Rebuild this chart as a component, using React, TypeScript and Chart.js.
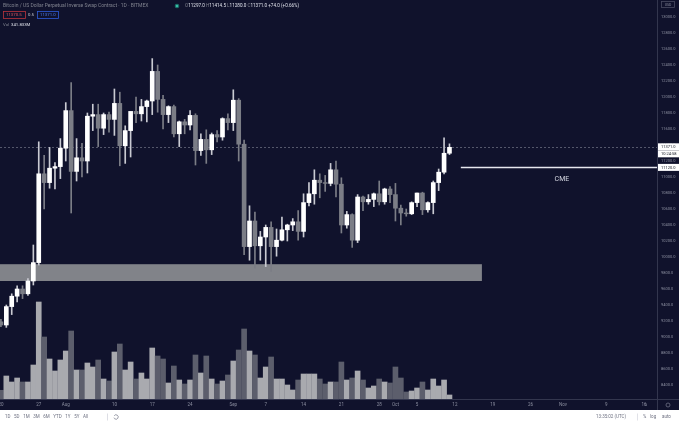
import { useEffect, useRef } from "react";
import { Chart, registerables } from "chart.js";

Chart.register(...registerables);

// ---------- DATA (daily candles, day 0 = 20 Jul 2020) ----------
const days = [
  "Jul 20","Jul 21","Jul 22","Jul 23","Jul 24","Jul 25","Jul 26","Jul 27","Jul 28","Jul 29","Jul 30","Jul 31",
  "Aug 1","Aug 2","Aug 3","Aug 4","Aug 5","Aug 6","Aug 7","Aug 8","Aug 9","Aug 10","Aug 11","Aug 12","Aug 13",
  "Aug 14","Aug 15","Aug 16","Aug 17","Aug 18","Aug 19","Aug 20","Aug 21","Aug 22","Aug 23","Aug 24","Aug 25",
  "Aug 26","Aug 27","Aug 28","Aug 29","Aug 30","Aug 31","Sep 1","Sep 2","Sep 3","Sep 4","Sep 5","Sep 6","Sep 7",
  "Sep 8","Sep 9","Sep 10","Sep 11","Sep 12","Sep 13","Sep 14","Sep 15","Sep 16","Sep 17","Sep 18","Sep 19",
  "Sep 20","Sep 21","Sep 22","Sep 23","Sep 24","Sep 25","Sep 26","Sep 27","Sep 28","Sep 29","Sep 30","Oct 1",
  "Oct 2","Oct 3","Oct 4","Oct 5","Oct 6","Oct 7","Oct 8","Oct 9","Oct 10","Oct 11",
];
const opens = [
  9190, 9150, 9380, 9510, 9600, 9540, 9700, 9930, 11040, 10930, 11110, 11130,
  11360, 11830, 11070, 11240, 11200, 11760, 11780, 11610, 11780, 11720, 11920, 11390, 11580,
  11820, 11790, 11880, 11950, 12320, 11970, 11780, 11880, 11540, 11690, 11650, 11770,
  11330, 11470, 11340, 11530, 11500, 11730, 11680, 11960, 11410, 10130, 10450, 10140, 10250,
  10370, 10130, 10210, 10340, 10400, 10440, 10320, 10680, 10790, 10960, 10930, 10920,
  11090, 10910, 10400, 10530, 10210, 10750, 10690, 10720, 10790, 10690, 10850, 10780,
  10610, 10550, 10540, 10680, 10800, 10590, 10680, 10930, 11060, 11297,
];
const highs = [
  9220, 9400, 9540, 9640, 9640, 9730, 10150, 11440, 11270, 11370, 11180, 11480,
  11930, 12180, 11480, 11420, 11800, 11910, 11910, 11800, 11810, 12100, 12060, 11640, 11800,
  12000, 11970, 11960, 12480, 12400, 12020, 11890, 11900, 11700, 11720, 11830, 11790,
  11540, 11590, 11550, 11580, 11740, 11790, 12090, 11980, 11460, 10640, 10560, 10320, 10400,
  10440, 10350, 10500, 10410, 10480, 10580, 10790, 10930, 11090, 11040, 11020, 11170,
  11200, 10990, 10570, 10540, 10780, 10760, 10780, 10800, 10950, 10860, 10880, 10920,
  10650, 10600, 10690, 10800, 10810, 10690, 10950, 11100, 11490, 11414.5,
];
const lows = [
  9130, 9120, 9280, 9440, 9480, 9520, 9650, 9900, 10600, 10860, 10850, 10980,
  11200, 10550, 10950, 11000, 11050, 11580, 11380, 11530, 11560, 11520, 11140, 11170, 11250,
  11680, 11700, 11690, 11780, 11810, 11600, 11680, 11500, 11380, 11540, 11590, 11150,
  11270, 11170, 11280, 11440, 11460, 11590, 11580, 11200, 10030, 9960, 9860, 9960, 9880,
  9820, 10010, 10200, 10200, 10330, 10210, 10250, 10640, 10660, 10740, 10820, 10890,
  10750, 10300, 10360, 10120, 10180, 10580, 10660, 10630, 10650, 10660, 10680, 10450,
  10400, 10510, 10530, 10630, 10530, 10560, 10540, 10830, 11040, 11280,
];
const closes = [
  9150, 9380, 9510, 9600, 9540, 9700, 9930, 11040, 10930, 11110, 11130, 11360,
  11830, 11070, 11240, 11200, 11760, 11780, 11610, 11780, 11720, 11920, 11390, 11580, 11820,
  11790, 11880, 11950, 12320, 11970, 11780, 11880, 11540, 11690, 11650, 11770, 11330,
  11470, 11340, 11530, 11500, 11730, 11680, 11960, 11410, 10130, 10450, 10140, 10250, 10370,
  10130, 10210, 10340, 10400, 10440, 10320, 10680, 10790, 10960, 10930, 10920, 11090,
  10910, 10400, 10530, 10210, 10750, 10690, 10720, 10790, 10690, 10850, 10780, 10610,
  10550, 10540, 10680, 10800, 10590, 10680, 10930, 11060, 11297, 11371,
];
// volume in millions of contracts
const volumes = [
  740, 1955, 1445, 1785, 1445, 1445, 2890, 8245, 5270, 3400, 2380, 3315,
  4080, 5780, 2465, 2465, 3060, 2720, 3315, 1700, 1530, 3995, 4675, 2465, 3145,
  1700, 2210, 1700, 4335, 3655, 3400, 1360, 2805, 1615, 1275, 1615, 3740,
  2210, 3655, 1700, 1275, 1530, 2040, 3230, 4165, 5950, 4080, 3740, 1785, 2720,
  3570, 1700, 1700, 1190, 765, 1615, 2125, 2125, 2125, 1700, 1275, 1445,
  1445, 3145, 1615, 1785, 2380, 1615, 935, 1105, 1700, 1445, 1360, 2720,
  1785, 595, 680, 935, 1445, 765, 1700, 1105, 1615, 342,
];

const priceTicks = [
  8400, 8600, 8800, 9000, 9200, 9400, 9600, 9800, 10000, 10200, 10400, 10600,
  10800, 11000, 11200, 11400, 11600, 11800, 12000, 12200, 12400, 12600, 12800, 13000,
];
const timeTickDays = [0, 7, 12, 21, 28, 35, 43, 49, 56, 63, 70, 73, 77, 84, 91, 98, 104, 112, 119];
const timeTickLabels = ["20", "27", "Aug", "10", "17", "24", "Sep", "7", "14", "21", "28", "Oct", "5", "12", "19", "26", "Nov", "9", "16"];

const cmeGapLow = 9700;
const cmeGapHigh = 9910;
const cmeGapEndDay = 89;
const cmeClose = 11120;
const cmeLineStartDay = 85.1;
const lastPrice = 11371.0;

const dayMin = -0.17;
const dayMax = 121.4;
const priceMin = 8225;
const priceMax = 13212.5;
const volMax = 33915;

// ---------- STYLE ----------
const BG = "#10122c";
const UP = "#ffffff";
const DOWN = "#7b7d86";
const VOL_UP = "#a9aaaf";
const VOL_DOWN = "#5c5e6c";
const BAND = "#818389";
const AXIS_TXT = "#8c8fa0";
const LINE = "#33364e";
const FONT = "Roboto, 'Noto Sans', sans-serif";

const isUp = (i: number) => closes[i] >= opens[i];

const zeroPad = (s: any) => {
  s.paddingLeft = 0;
  s.paddingRight = 0;
  s.paddingTop = 0;
  s.paddingBottom = 0;
};

const overlay = {
  id: "overlay",
  beforeDraw(chart: any) {
    const { ctx, width, height } = chart;
    ctx.save();
    ctx.fillStyle = BG;
    ctx.fillRect(0, 0, width, height);
    ctx.fillStyle = "#ffffff";
    ctx.fillRect(0, height - 14, width, 14);
    ctx.restore();
  },
  beforeDatasetsDraw(chart: any) {
    const { ctx, chartArea } = chart;
    const xs = chart.scales.x;
    const ys = chart.scales.y;
    ctx.save();
    const x1 = xs.getPixelForValue(cmeGapEndDay);
    const yt = ys.getPixelForValue(cmeGapHigh);
    const yb = ys.getPixelForValue(cmeGapLow);
    ctx.fillStyle = BAND;
    ctx.fillRect(chartArea.left, yt, x1 - chartArea.left, yb - yt);
    const yp = Math.round(ys.getPixelForValue(lastPrice)) + 0.5;
    ctx.strokeStyle = "rgba(140,143,160,0.55)";
    ctx.lineWidth = 1;
    ctx.setLineDash([2, 2]);
    ctx.beginPath();
    ctx.moveTo(chartArea.left, yp);
    ctx.lineTo(chartArea.right, yp);
    ctx.stroke();
    ctx.restore();
  },
  afterDraw(chart: any) {
    const { ctx, chartArea, width, height } = chart;
    const xs = chart.scales.x;
    const ys = chart.scales.y;
    ctx.save();
    ctx.strokeStyle = LINE;
    ctx.lineWidth = 1;
    ctx.beginPath();
    ctx.moveTo(chartArea.right + 0.5, 0);
    ctx.lineTo(chartArea.right + 0.5, height - 14);
    ctx.moveTo(0, chartArea.bottom + 0.5);
    ctx.lineTo(width, chartArea.bottom + 0.5);
    ctx.stroke();

    // CME line + label
    const yc = Math.round(ys.getPixelForValue(cmeClose)) + 0.5;
    const xc0 = xs.getPixelForValue(cmeLineStartDay);
    ctx.strokeStyle = "#e6e7ee";
    ctx.lineWidth = 1.3;
    ctx.beginPath();
    ctx.moveTo(xc0, yc);
    ctx.lineTo(chartArea.right, yc);
    ctx.stroke();
    ctx.fillStyle = "#d6d8e2";
    ctx.font = `7px ${FONT}`;
    ctx.textAlign = "center";
    ctx.textBaseline = "middle";
    ctx.fillText("CME", (xc0 + chartArea.right) / 2 + 3, yc + 11.5);

    // price tags on axis
    const tag = (yCenter: number, text: string) => {
      ctx.fillStyle = "#ffffff";
      ctx.fillRect(chartArea.right + 1, yCenter - 3.5, width - chartArea.right - 1, 7);
      ctx.fillStyle = "#131722";
      ctx.font = `4px ${FONT}`;
      ctx.textAlign = "left";
      ctx.textBaseline = "middle";
      ctx.fillText(text, chartArea.right + 4, yCenter + 0.3);
    };
    const yl = ys.getPixelForValue(lastPrice);
    tag(yl - 0.5, lastPrice.toFixed(1));
    tag(yl + 6.5, "10:24:58");
    tag(ys.getPixelForValue(cmeClose), cmeClose.toFixed(1));

    // USD box
    ctx.strokeStyle = "#4a4d63";
    ctx.lineWidth = 0.8;
    ctx.strokeRect(661.5, 1.5, 13, 6);
    ctx.fillStyle = AXIS_TXT;
    ctx.font = `3.5px ${FONT}`;
    ctx.textAlign = "center";
    ctx.fillText("USD", 668, 4.8);

    // corner icons
    ctx.strokeStyle = "#6d7084";
    ctx.lineWidth = 0.8;
    ctx.beginPath();
    ctx.arc(668, 405, 2, 0, Math.PI * 2);
    ctx.stroke();
    ctx.fillStyle = "#6d7084";
    ctx.font = `4px ${FONT}`;
    ctx.fillText("⇅", 645, 405);

    // header
    ctx.textAlign = "left";
    ctx.textBaseline = "middle";
    ctx.font = `5px ${FONT}`;
    ctx.fillStyle = "#80838f";
    ctx.fillText("Bitcoin / US Dollar Perpetual Inverse Swap Contract · 1D · BITMEX", 3, 6);
    ctx.fillStyle = "#1d6f6a";
    ctx.beginPath();
    ctx.arc(177, 6, 2.3, 0, Math.PI * 2);
    ctx.fill();
    ctx.fillStyle = "#3fd1b5";
    ctx.beginPath();
    ctx.arc(177, 6, 1.1, 0, Math.PI * 2);
    ctx.fill();
    const pieces: [string, string][] = [
      ["O", "#80838f"], ["11297.0", "#dfe1ea"],
      [" H", "#80838f"], ["11414.5", "#dfe1ea"],
      [" L", "#80838f"], ["11280.0", "#dfe1ea"],
      [" C", "#80838f"], ["11371.0", "#dfe1ea"],
      [" +74.0 (+0.66%)", "#dfe1ea"],
    ];
    let px = 185;
    ctx.font = `4.6px ${FONT}`;
    for (const [t, c] of pieces) {
      ctx.fillStyle = c;
      ctx.fillText(t, px, 6);
      px += ctx.measureText(t).width;
    }
    ctx.font = `4.3px ${FONT}`;
    ctx.strokeStyle = "#b8343c";
    ctx.lineWidth = 0.8;
    ctx.strokeRect(3.5, 11.5, 22, 7);
    ctx.fillStyle = "#e0535b";
    ctx.fillText("11370.5", 6, 15.2);
    ctx.fillStyle = "#c8cad4";
    ctx.fillText("0.5", 28, 15.2);
    ctx.strokeStyle = "#2e5bd8";
    ctx.strokeRect(37.5, 11.5, 21, 7);
    ctx.fillStyle = "#4a7cf2";
    ctx.fillText("11371.0", 40, 15.2);
    ctx.fillStyle = "#80838f";
    ctx.fillText("Vol", 3, 24.5);
    ctx.fillStyle = "#dfe1ea";
    ctx.fillText("341.833M", 11, 24.5);

    // bottom toolbar
    const by = height - 7;
    ctx.font = `4.5px ${FONT}`;
    ctx.fillStyle = "#6e7182";
    const ranges = ["1D", "5D", "1M", "3M", "6M", "YTD", "1Y", "5Y", "All"];
    let bx = 5;
    for (const r of ranges) {
      ctx.fillText(r, bx, by);
      bx += ctx.measureText(r).width + 3.6;
    }
    ctx.strokeStyle = "#d4d6de";
    ctx.beginPath();
    ctx.moveTo(107.5, by - 3.5);
    ctx.lineTo(107.5, by + 3.5);
    ctx.stroke();
    ctx.strokeStyle = "#6e7182";
    ctx.lineWidth = 0.7;
    ctx.beginPath();
    ctx.arc(116, by, 2.2, Math.PI * 1.2, Math.PI * 2.9);
    ctx.stroke();
    ctx.fillText("13:35:02 (UTC)", 596, by);
    ctx.strokeStyle = "#d4d6de";
    ctx.beginPath();
    ctx.moveTo(637.5, by - 3.5);
    ctx.lineTo(637.5, by + 3.5);
    ctx.stroke();
    ctx.fillText("%", 643, by);
    ctx.fillText("log", 650, by);
    ctx.fillText("auto", 662, by);
    ctx.restore();
  },
};

export default function App() {
  const ref = useRef<HTMLCanvasElement>(null);

  useEffect(() => {
    if (!ref.current) return;
    const idx = days.map((_, i) => i);
    const chart = new Chart(ref.current, {
      type: "bar",
      data: {
        datasets: [
          {
            label: "Bodies",
            data: idx.map((i) => ({ x: i, y: [opens[i], closes[i]] })) as any,
            backgroundColor: idx.map((i) => (isUp(i) ? UP : DOWN)),
            barThickness: 4,
            grouped: false,
            yAxisID: "y",
            order: 1,
          } as any,
          {
            label: "Wicks",
            data: idx.map((i) => ({ x: i, y: [lows[i], highs[i]] })) as any,
            backgroundColor: idx.map((i) => (isUp(i) ? "#c9cad2" : DOWN)),
            barThickness: 1,
            grouped: false,
            yAxisID: "y",
            order: 2,
          } as any,
          {
            label: "Volume",
            data: idx.map((i) => ({ x: i, y: volumes[i] })) as any,
            backgroundColor: idx.map((i) => (isUp(i) ? VOL_UP : VOL_DOWN)),
            barThickness: 5,
            grouped: false,
            yAxisID: "yv",
            order: 3,
          } as any,
        ],
      },
      options: {
        animation: false,
        responsive: false,
        maintainAspectRatio: false,
        devicePixelRatio: 1,
        events: [],
        layout: { padding: { left: 0, right: 0, top: 0, bottom: 14 }, autoPadding: false },
        plugins: { legend: { display: false }, tooltip: { enabled: false } },
        scales: {
          x: {
            type: "linear",
            offset: false,
            min: dayMin,
            max: dayMax,
            position: "bottom",
            grid: { display: false, drawTicks: false, offset: false },
            border: { display: false },
            afterBuildTicks: (s: any) => {
              s.ticks = timeTickDays.map((v) => ({ value: v }));
            },
            afterFit: (s: any) => {
              s.height = 11;
              zeroPad(s);
            },
            ticks: {
              autoSkip: false,
              maxRotation: 0,
              padding: 3,
              color: AXIS_TXT,
              font: { size: 4.5, family: FONT },
              callback: (v: any) => {
                const k = timeTickDays.indexOf(Number(v));
                return k >= 0 ? timeTickLabels[k] : "";
              },
            },
          },
          y: {
            type: "linear",
            offset: false,
            position: "right",
            min: priceMin,
            max: priceMax,
            grid: { display: false, drawTicks: false, offset: false },
            border: { display: false },
            afterBuildTicks: (s: any) => {
              s.ticks = priceTicks.map((v) => ({ value: v }));
            },
            afterFit: (s: any) => {
              s.width = 22;
              zeroPad(s);
            },
            ticks: {
              padding: 4,
              color: AXIS_TXT,
              font: { size: 4, family: FONT },
              callback: (v: any) => Number(v).toFixed(1),
            },
          },
          yv: {
            type: "linear",
            offset: false,
            display: false,
            min: 0,
            max: volMax,
          },
        },
      } as any,
      plugins: [overlay],
    });
    return () => chart.destroy();
  }, []);

  return (
    <div style={{ position: "fixed", left: 0, top: 0, width: 679, height: 424, background: BG }}>
      <canvas ref={ref} width={679} height={424} style={{ display: "block", width: 679, height: 424 }} />
    </div>
  );
}
